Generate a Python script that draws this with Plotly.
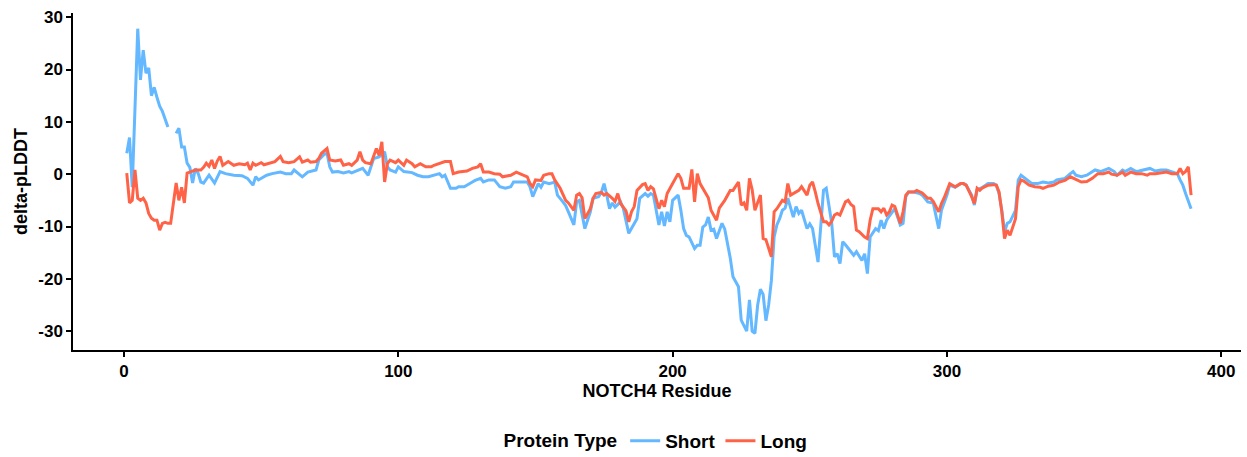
import plotly.graph_objects as go

short_res = [1,2,3,5,6,7,8,9,10,11,12,13,14,15,16,17,18,19,20,21,22,23,24,25,26,27,28,29,31,33,35,
             37,40,43,45,47,48,49,52,54,57,59,61,62,65,67,70,71,72,73,74,75,76,78,80,82,83,85,87,89,90,91,93,95,96,97,99,100,
             102,104,105,107,109,111,113,114,115,116,117,119,121,122,124,127,128,130,131,133,135,137,139,141,142,144,147,148,149,
             151,152,153,155,157,158,160,161,162,164,165,166,168,170,171,173,174,175,176,177,178,179,181,182,184,186,187,188,190,
             191,192,193,194,195,196,197,198,199,200,201,202,203,204,205,206,208,209,210,211,212,213,214,215,216,218,219,220,221,
             222,224,225,226,227,228,229,230,231,232,233,234,235,236,237,238,239,240,241,242,244,245,246,247,249,250,251,253,254,
             255,256,258,259,260,261,262,263,264,266,267,268,269,270,271,272,274,275,276,277,278,279,281,283,284,285,286,288,290,
             291,293,295,297,298,299,300,301,303,305,306,307,309,310,311,313,315,317,318,319,320,321,322,323,325,326,327,329,331,
             333,335,337,339,340,343,345,346,347,349,351,352,354,356,359,361,362,364,365,367,369,370,372,374,376,378,380,382,384,
             385,386,387,388,389]
short_val = [4,7,-2.5,27.8,18,23.7,19.3,20.3,15,16.6,14.7,13,12,10.3,9,None,None,7.8,8.8,5.2,5.2,2.1,1.3,-1.7,1.1,0.2,-1.5,-1.7,-0.2,-1.7,0.5,
             0.1,-0.2,-0.3,-0.8,-2.1,-0.5,-1.1,-0.2,0.1,0.4,0.1,0.1,0.8,-0.5,0.4,0.8,2.7,3.3,3.8,4,1.4,0.4,0.5,0.25,0.5,0.25,0.6,1.1,-0.2,1.4,3,3.3,4.3,1.4,0.8,0.4,1.4,
             0.5,0.4,0.3,-0.2,-0.5,-0.5,-0.2,0,0.1,-0.5,-0.2,-2.7,-2.7,-2.4,-2.4,-1.5,-1.2,-0.8,-1.5,-1.1,-1.1,-2.4,-2.7,-2.4,-1.5,-1.5,-1.5,-2.4,-4.3,
             -1.8,-2.5,-1.5,-1.8,-1.5,-4,-5.3,-6,-7.2,-9.7,-5.3,-5,-10.4,-7.2,-4.6,-4.3,-3.5,-1.8,-4,-6.6,-5.5,-6.3,-5.3,-6.5,-11.3,-9.4,-8.5,-4.6,-3.7,
             -4.2,-3.7,-4,-6.9,-9.7,-7.2,-9.9,-7.2,-9.1,-5,-4.5,-4,-6.9,-10.4,-11.7,-12,-14.2,-13.6,-13.6,-10.1,-9.7,-8.2,-10.7,-10.5,-12.3,-9.4,-10.5,-13.2,-16,
             -19.6,-21.5,-27.9,-29,-30,-24,-30,-30.4,-25,-22,-23,-28,-25,-20.3,-12,-9.7,-8.5,-6.9,-6.5,-4.6,-8.2,-6.2,-7.5,-6.9,-10.4,-9.5,-10.4,-16.8,-9.4,
             -3.1,-2.7,-9.4,-15.8,-15.2,-17.1,-12.9,-13.5,-14.2,-15.5,-14.8,-15.8,-16.5,-15.2,-19,-12,-10.4,-10.8,-8.8,-10.4,-8.8,-8,-6.6,-9.7,-9.4,-4.3,-3.4,-3.4,-3.7,
             -4,-5.3,-5.5,-10.4,-6.9,-5.5,-4,-2.1,-2.5,-1.8,-1.8,-2.1,-4,-5.9,-3,-2.5,-1.8,-1.8,-2.1,-3.7,-6.9,-11,-9.4,-9.1,-6.9,-1.1,-0.2,-1,-1.8,
             -1.8,-1.5,-1.7,-1.5,-1.1,-0.8,0.1,0.5,-0.2,-0.5,-0.2,0.1,0.8,0.5,1.1,0.5,-0.2,0.8,0.5,1.1,0.5,0.6,0.8,1.1,0.6,0.8,0.8,0.4,0.1,
             -1.1,-2.1,-3.7,-5.3,-6.6]

long_res = [1,2,3,4,5,6,7,8,9,10,11,12,13,14,15,16,17,18,19,20,21,22,23,24,26,28,29,30,31,32,33,34,35,36,38,40,42,44,45,46,47,48,50,51,53,
            55,57,58,60,62,64,65,67,68,70,71,72,74,75,77,79,80,82,83,85,86,87,88,90,92,93,94,95,96,97,99,100,102,103,105,106,108,110,
            112,113,115,117,119,120,122,125,127,129,130,131,133,135,137,138,140,141,143,145,147,148,149,150,151,152,153,155,156,157,
            159,160,161,162,164,165,166,167,168,170,171,172,174,175,176,178,179,180,181,183,184,185,186,187,189,190,191,192,193,195,
            196,197,198,200,202,203,204,206,207,208,209,210,212,213,214,215,216,217,219,221,222,224,225,226,227,228,229,230,231,232,
            233,234,236,237,238,240,241,242,243,245,246,247,249,250,251,252,253,255,256,257,258,259,260,261,263,264,265,266,267,268,
            270,271,272,273,275,276,277,278,279,280,281,283,284,285,286,288,289,291,293,294,295,297,298,299,300,301,303,305,306,307,
            309,310,311,312,313,315,317,318,319,320,321,322,323,325,326,327,328,330,332,334,335,337,339,341,343,345,347,349,351,353,
            355,357,359,360,362,363,364,365,367,369,371,373,374,376,378,380,382,384,385,386,387,388,389]
long_val = [0.2,-5.5,-5,0.8,-4.6,-5,-4.6,-5.5,-7.5,-8.4,-8.8,-8.8,-10.7,-9.4,-9.2,-9.4,-9.4,-5,-1.7,-5,-2.5,-5.5,0.2,0.4,0.8,0.8,1.3,2.1,1.5,2.7,1.1,2.5,3.4,1.7,2.4,1.7,2.0,1.8,2.1,0.8,2.1,1.7,2.2,1.8,2.1,
            2.4,3.4,2.4,2.2,2.4,3.3,2.3,2.7,2.3,2.4,3.0,4,4.9,2.7,2.5,2.7,1.7,2.0,1.7,2.7,4.3,2.7,2.2,2.0,4.9,3.6,6.2,-1.5,2.0,2.7,2.2,2.7,1.7,2.7,2.0,1.4,2.0,1.4,
            1.4,1.7,2.0,2.4,2.4,0.1,0.4,0.6,1.1,1.4,2.0,0.4,0.4,0.1,0,-0.5,-0.3,-0.2,0.4,0,-0.5,-1.8,-2.4,-1.1,-1.1,-1.2,-0.2,0.1,0.1,-1.1,
            -2.7,-4,-5,-5.5,-6.9,-4,-3.7,-4.5,-8.5,-6.6,-4.6,-3.7,-3.5,-4,-3.7,-4.6,-5.2,-3.7,-5.6,-7,-9.1,-7.2,-6.2,-3.1,-2,-1.8,-3.1,-2.4,-2.8,-6.6,
            -5,-6.2,-3.7,-1.8,0.1,-0.8,-2.7,-2.7,0.9,-5.3,0.1,-1.8,-3.7,-4.5,-6.9,-7.8,-8.8,-6.5,-5,-3.1,-3.1,-1.5,-5.9,-5.5,-6.9,-0.8,-3,-6.9,-5.3,-4,
            -12.3,-12.5,-15.8,-7.2,-6.6,-5,-5.3,-1.8,-4,-3.5,-3.1,-2.4,-4,-2.1,-1.5,-3.4,-5.6,-9.1,-9.1,-9.7,-9,-7.8,-7.5,-7.8,-5.3,-5,-5.8,-6.2,-10.7,-11,
            -12,-12.3,-8.8,-6.6,-6.6,-7.2,-6.5,-7.8,-7.2,-5.9,-6.2,-9.4,-7.2,-4,-3.4,-3.4,-3.1,-3.6,-4.6,-4.6,-5.2,-7.2,-5.6,-4.5,-3.1,-1.8,-2.4,-1.8,-1.8,-2.1,
            -4.3,-5.6,-2.7,-3.1,-2.6,-2.1,-2,-2.1,-3.4,-7.2,-12.3,-10.7,-11.7,-8.5,-2.4,-1.1,-1.3,-2.1,-2.4,-2.5,-2.7,-2.3,-2.1,-1.5,-1.2,-0.5,-1.0,-1.5,-1.4,-0.8,
            0.1,0.1,0.4,0.0,-0.2,0.1,0.4,-0.2,0.4,0.1,0.1,-0.2,0.1,0.1,0.2,0.4,0.1,0.1,1.1,0.1,0.5,1.4,-4]

x_ticks = [0, 100, 200, 300, 400]
y_ticks = [-30, -20, -10, 0, 10, 20, 30]

BLUE = "#63B8FF"
RED = "#FF6347"
FONT = "Liberation Sans"

fig = go.Figure()
fig.add_trace(go.Scatter(x=short_res, y=short_val, mode="lines", name="<b>Short</b>",
                         line=dict(color=BLUE, width=3), connectgaps=False))
fig.add_trace(go.Scatter(x=long_res, y=long_val, mode="lines", name="<b>Long</b>",
                         line=dict(color=RED, width=3)))

fig.update_layout(
    width=1247, height=457,
    margin=dict(l=73, r=6, t=13, b=107, autoexpand=False),
    paper_bgcolor="white", plot_bgcolor="white",
    font=dict(family=FONT, color="black"),
    showlegend=True,
    legend=dict(orientation="h", x=0.5, xanchor="center", xref="paper",
                y=0.035, yanchor="middle", yref="container",
                title=dict(text="<b>Protein Type</b>", font=dict(size=19, family=FONT)),
                font=dict(size=19, family=FONT), itemwidth=30, tracegroupgap=0),
    xaxis=dict(range=[-18.6, 407.2], tickvals=x_ticks, ticktext=[f"<b>{v}</b>" for v in x_ticks],
               showgrid=False, zeroline=False, showline=True, linecolor="black", linewidth=1.5,
               ticks="outside", ticklen=5, tickcolor="black", tickwidth=1.5,
               tickfont=dict(size=17, family=FONT, color="black"),
               title=dict(text="<b>NOTCH4 Residue</b>", font=dict(size=18, family=FONT), standoff=4)),
    yaxis=dict(range=[-33.6, 30.8], tickvals=y_ticks, ticktext=[f"<b>{v}</b>" for v in y_ticks],
               showgrid=False, zeroline=False, showline=True, linecolor="black", linewidth=1.5,
               ticks="outside", ticklen=5, tickcolor="black", tickwidth=1.5,
               tickfont=dict(size=17, family=FONT, color="black"),
               title=dict(text="<b>delta-pLDDT</b>", font=dict(size=18, family=FONT), standoff=6)),
)

fig.write_html("out.html")
